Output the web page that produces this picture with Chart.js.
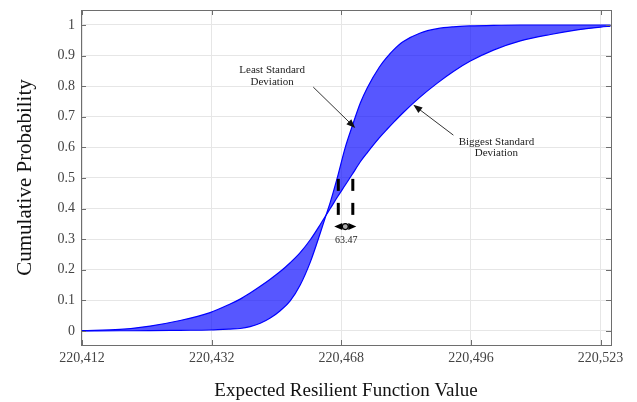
<!DOCTYPE html>
<html><head><meta charset="utf-8">
<script src="https://cdn.jsdelivr.net/npm/chart.js@4.4.1/dist/chart.umd.min.js"></script>
<style>html,body{margin:0;padding:0;background:#fff}canvas{display:block}</style>
</head><body>
<canvas id="c" width="637" height="402"></canvas>
<script>
// x positions expressed in tick-slot units (tick i of the axis sits at xTickValues[i])
const xValues = [0.000,0.293,0.525,0.757,0.988,1.143,1.220,1.297,1.375,1.452,1.529,1.606,1.683,1.761,1.838,1.876,1.915,1.969,2.031,2.085,2.147,2.201,2.293,2.355,2.402,2.479,2.610,2.741,2.865,2.996,3.174,3.382,3.614,3.807,4.000,4.077];
// CDF with the least standard deviation (steepest curve)
const leastSD = [0,0.0005,0.001,0.002,0.003,0.006,0.008,0.014,0.025,0.042,0.066,0.098,0.15,0.225,0.32,0.37,0.42,0.5,0.6,0.67,0.745,0.795,0.862,0.896,0.918,0.946,0.974,0.988,0.994,0.997,0.999,1.0,1.0,1.0,1.0,1.0];
// CDF with the biggest standard deviation (flattest curve)
const biggestSD = [0.001,0.005,0.016,0.034,0.06,0.088,0.104,0.124,0.146,0.169,0.194,0.223,0.256,0.298,0.348,0.374,0.40,0.437,0.477,0.512,0.553,0.583,0.631,0.66,0.681,0.714,0.765,0.81,0.848,0.882,0.918,0.948,0.969,0.983,0.993,0.996];
const xTickValues = [0,1,2,3,4];
const xTickLabels = ['220,412','220,432','220,468','220,496','220,523'];
const yTickValues = [0,0.1,0.2,0.3,0.4,0.5,0.6,0.7,0.8,0.9,1];
const yTickLabels = ['0','0.1','0.2','0.3','0.4','0.5','0.6','0.7','0.8','0.9','1'];
const gapLabel = '63.47';
const leastLabel = ['Least Standard','Deviation'];
const biggestLabel = ['Biggest Standard','Deviation'];

const SERIF = '"Liberation Serif","Times New Roman",serif';
const BLUE = 'rgb(0,0,255)';
const BAND = 'rgba(0,0,255,0.66)';

const ann = {
  leastText: {x:1.467, y:[0.851,0.812]},
  leastArrow: {x1:1.784, y1:0.797, x2:2.108, y2:0.663},
  biggestText: {x:3.197, y:[0.618,0.580]},
  biggestArrow: {x1:2.865, y1:0.640, x2:2.556, y2:0.739},
  dashX: [1.977, 2.089], dashY: [0.497, 0.379],
  gapArrow: {x1:1.946, x2:2.116, y:0.341},
  gapText: {x:2.039, y:0.297}
};

function arrowHead(ctx, x1, y1, x2, y2, len, half){
  const a = Math.atan2(y2-y1, x2-x1);
  ctx.beginPath();
  ctx.moveTo(x2, y2);
  ctx.lineTo(x2 - len*Math.cos(a) + half*Math.sin(a), y2 - len*Math.sin(a) - half*Math.cos(a));
  ctx.lineTo(x2 - len*Math.cos(a) - half*Math.sin(a), y2 - len*Math.sin(a) + half*Math.cos(a));
  ctx.closePath();
  ctx.fill();
}
function arrow(ctx, x1, y1, x2, y2){
  const a = Math.atan2(y2-y1, x2-x1);
  ctx.beginPath();
  ctx.moveTo(x1, y1);
  ctx.lineTo(x2 - 6*Math.cos(a), y2 - 6*Math.sin(a));
  ctx.stroke();
  arrowHead(ctx, x1, y1, x2, y2, 9, 3.5);
}

const boxPlugin = {
  id: 'box',
  afterDatasetsDraw(chart){
    const {ctx, chartArea: ca, scales: {x, y}} = chart;
    ctx.save();
    ctx.strokeStyle = '#6e6e6e';
    ctx.lineWidth = 1;
    ctx.strokeRect(Math.round(ca.left)+0.5, Math.round(ca.top)+0.5, Math.round(ca.right-ca.left), Math.round(ca.bottom-ca.top));
    ctx.beginPath();
    xTickValues.forEach(v => {
      const px = Math.round(x.getPixelForValue(v)) + 0.5;
      ctx.moveTo(px, ca.bottom); ctx.lineTo(px, ca.bottom - 5);
      ctx.moveTo(px, ca.top); ctx.lineTo(px, ca.top + 5);
    });
    yTickValues.forEach(v => {
      const py = Math.round(y.getPixelForValue(v)) + 0.5;
      ctx.moveTo(ca.left, py); ctx.lineTo(ca.left + 5, py);
      ctx.moveTo(ca.right, py); ctx.lineTo(ca.right - 5, py);
    });
    ctx.stroke();
    ctx.restore();
  }
};

const annotPlugin = {
  id: 'annot',
  afterDatasetsDraw(chart){
    const {ctx, scales: {x, y}} = chart;
    const X = v => x.getPixelForValue(v), Y = v => y.getPixelForValue(v);
    ctx.save();
    ctx.fillStyle = '#222'; ctx.strokeStyle = '#333'; ctx.lineWidth = 1;
    ctx.font = '11px ' + SERIF; ctx.textAlign = 'center'; ctx.textBaseline = 'middle';
    leastLabel.forEach((t, i) => ctx.fillText(t, X(ann.leastText.x), Y(ann.leastText.y[i])));
    biggestLabel.forEach((t, i) => ctx.fillText(t, X(ann.biggestText.x), Y(ann.biggestText.y[i])));
    const la = ann.leastArrow, ba = ann.biggestArrow;
    ctx.fillStyle = '#111';
    arrow(ctx, X(la.x1), Y(la.y1), X(la.x2), Y(la.y2));
    arrow(ctx, X(ba.x1), Y(ba.y1), X(ba.x2), Y(ba.y2));
    // dashed markers
    ctx.strokeStyle = '#000'; ctx.lineWidth = 3; ctx.setLineDash([12, 12]);
    ann.dashX.forEach(v => {
      ctx.beginPath(); ctx.moveTo(X(v), Y(ann.dashY[0])); ctx.lineTo(X(v), Y(ann.dashY[1])); ctx.stroke();
    });
    ctx.setLineDash([]);
    // double arrow
    const g = ann.gapArrow, gy = Y(g.y), gx1 = X(g.x1), gx2 = X(g.x2), gm = (gx1+gx2)/2;
    ctx.fillStyle = '#000'; ctx.lineWidth = 1.5;
    ctx.beginPath(); ctx.moveTo(gx1+5, gy); ctx.lineTo(gx2-5, gy); ctx.stroke();
    arrowHead(ctx, gm, gy, gx1, gy, 8, 3.5);
    arrowHead(ctx, gm, gy, gx2, gy, 8, 3.5);
    ctx.beginPath(); ctx.arc(gm, gy, 3, 0, Math.PI*2);
    ctx.fillStyle = '#aaa'; ctx.fill(); ctx.lineWidth = 1.2; ctx.strokeStyle = '#000'; ctx.stroke();
    ctx.fillStyle = '#222'; ctx.font = '10px ' + SERIF;
    ctx.fillText(gapLabel, X(ann.gapText.x), Y(ann.gapText.y));
    ctx.restore();
  }
};

const pts = arr => xValues.map((v, i) => ({x: v, y: arr[i]}));

new Chart(document.getElementById('c'), {
  type: 'line',
  data: {
    datasets: [
      {label: 'Biggest Standard Deviation', data: pts(biggestSD), borderColor: BLUE, borderWidth: 1.2,
       pointRadius: 0, cubicInterpolationMode: 'monotone', fill: false},
      {label: 'Least Standard Deviation', data: pts(leastSD), borderColor: BLUE, borderWidth: 1.2,
       pointRadius: 0, cubicInterpolationMode: 'monotone',
       fill: {target: 0, above: BAND, below: BAND}}
    ]
  },
  options: {
    responsive: false, animation: false, devicePixelRatio: 1,
    layout: {padding: {top: 10, right: 26, left: 0, bottom: 0}},
    plugins: {legend: {display: false}, tooltip: {enabled: false}},
    scales: {
      x: {
        type: 'linear', min: -0.008, max: 4.081,
        afterBuildTicks: s => { s.ticks = xTickValues.map(v => ({value: v})); },
        afterFit: s => { s.height = 57; s.paddingLeft = 0; s.paddingRight = 0; },
        ticks: {callback: (v, i) => xTickLabels[i], autoSkip: false, maxRotation: 0, padding: 5,
                color: '#444', font: {family: SERIF, size: 14}},
        grid: {color: '#e6e6e6', drawTicks: false},
        border: {display: false},
        title: {display: true, text: 'Expected Resilient Function Value', color: '#111',
                font: {family: SERIF, size: 19}, padding: {top: 0, bottom: 0}}
      },
      y: {
        type: 'linear', min: -0.046, max: 1.049,
        afterBuildTicks: s => { s.ticks = yTickValues.map(v => ({value: v})); },
        afterFit: s => { s.width = 81; s.paddingTop = 0; s.paddingBottom = 0; },
        ticks: {callback: (v, i) => yTickLabels[i], padding: 6, color: '#444',
                font: {family: SERIF, size: 14}},
        grid: {color: '#e6e6e6', drawTicks: false},
        border: {display: false},
        title: {display: true, text: 'Cumulative Probability', color: '#111',
                font: {family: SERIF, size: 21}, padding: {top: 13, bottom: 0}}
      }
    }
  },
  plugins: [boxPlugin, annotPlugin]
});
</script>
</body></html>
